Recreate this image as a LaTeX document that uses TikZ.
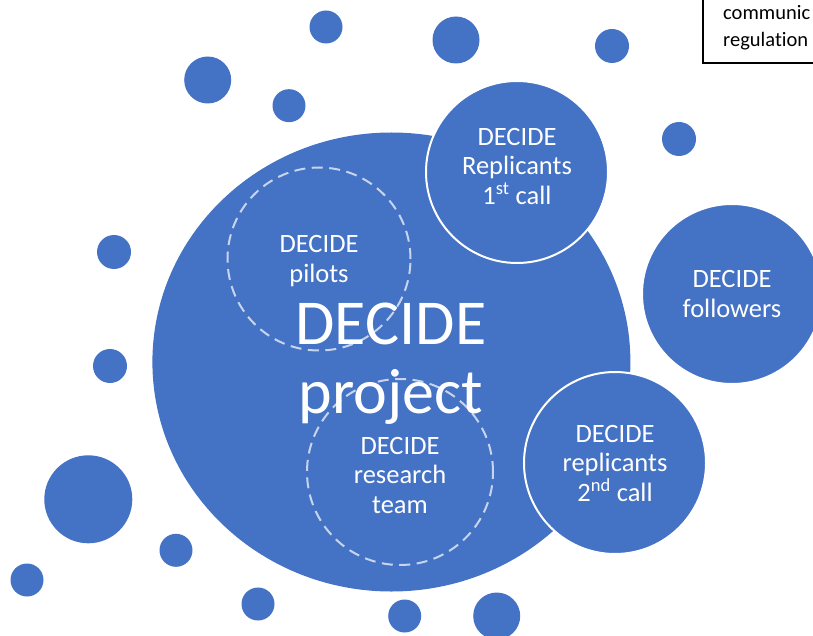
\documentclass[tikz,border=0pt]{standalone}
\usepackage{fontspec}
\setmainfont{Carlito}[Ligatures=NoCommon]
\definecolor{obl}{HTML}{4472C4}
\begin{document}
\begin{tikzpicture}[x=1pt,y=-1pt,
  dot/.style={circle,fill=obl,inner sep=0pt,outer sep=0pt,minimum size=#1},
  bigc/.style={circle,fill=obl,draw=white,line width=2pt,inner sep=0pt,minimum size=#1},
  dashc/.style={circle,draw=white,draw opacity=0.7,dash pattern=on 11pt off 6.5pt,line width=2pt,
     inner sep=0pt,minimum size=#1},
  lbl/.style={text=white,align=center,font=\fontsize{26.5}{29.5}\selectfont,inner sep=0pt},
  hugetxt/.style={text=white,font=\fontsize{64}{70}\selectfont,inner sep=0pt,anchor=base},
  boxtxt/.style={font=\fontsize{20.5}{24}\selectfont,inner sep=0pt,anchor=base west}]
\useasboundingbox (0,0) rectangle (813,636);
% scattered dots
\node[dot=33pt] (d1) at (326,27) {};
\node[dot=47pt] (d2) at (456,40) {};
\node[dot=34pt] (d3) at (612,46) {};
\node[dot=47pt] (d4) at (207.7,80) {};
\node[dot=33pt] (d5) at (289,105.7) {};
\node[dot=34pt] (d6) at (679,139) {};
\node[dot=34pt] (d7) at (114,252) {};
\node[dot=34pt] (d8) at (110,366) {};
\node[dot=88pt] (d9) at (88.3,499.3) {};
\node[dot=33pt] (d10) at (176,550.3) {};
\node[dot=33pt] (d11) at (27,580) {};
\node[dot=33pt] (d12) at (258,604) {};
\node[dot=33pt] (d13) at (404.7,616) {};
\node[dot=47pt] (d14) at (496.7,616) {};
% main project ellipse
\fill[obl] (391.4,362) ellipse [x radius=239, y radius=229.5];
\coordinate (proj) at (391.4,362);
% dashed inner circles
\node[dashc=183pt] (pilots) at (319,259) {};
\node[dashc=186pt] (research) at (400,472) {};
\node[lbl] (pilotsT) at (319,261) {DECIDE\\pilots};
\node[lbl] (researchT) at (400,475) {DECIDE\\research\\team};
% project title
\node[hugetxt] (projT1) at (391,344) {DECIDE};
\node[hugetxt] (projT2) at (391,413) {project};
% outer circles
\node[bigc=182pt] (rep1) at (517,172) {};
\node[lbl] (rep1T) at (517,166) {DECIDE\\Replicants\\1\textsuperscript{st} call};
\node[bigc=180pt] (follow) at (732,294) {};
\node[lbl] (followT) at (732,294) {DECIDE\\followers};
\node[bigc=182pt] (rep2) at (615,463) {};
\node[lbl] (rep2T) at (615,463) {DECIDE\\replicants\\2\textsuperscript{nd} call};
% clipped text box at top right
\draw[black,line width=1.2pt] (703,-5) -- (703,63) -- (820,63);
\node[boxtxt] (boxA) at (723,20) {communic};
\node[boxtxt] (boxB) at (723,47) {regulation};
\end{tikzpicture}
\end{document}
